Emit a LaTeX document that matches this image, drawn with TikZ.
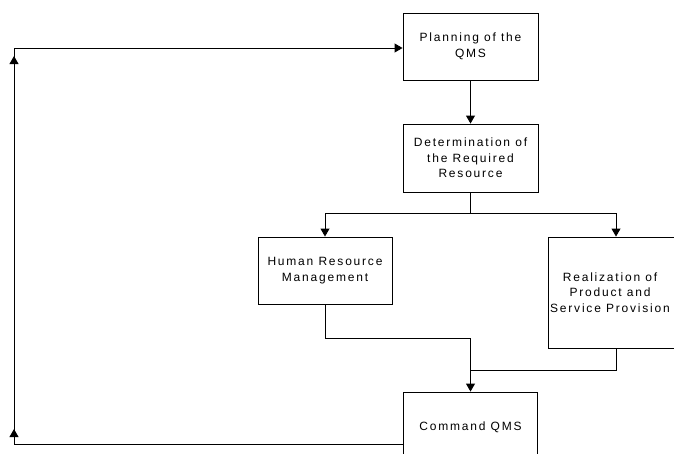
\documentclass[tikz,border=0pt]{standalone}
\usepackage{fontspec}
\setmainfont{Liberation Sans}[LetterSpace=15]
\usetikzlibrary{arrows.meta,decorations.markings}
\tikzset{
  boxtext/.style={align=center, inner sep=0pt, font=\fontsize{12}{15.5}\selectfont},
  box/.style={boxtext, draw=black, line width=0.9pt, fill=white},
  link/.style={line width=0.9pt, draw=black},
  tip/.style={-{Triangle[length=8pt,width=9pt]}},
}
\begin{document}
\begin{tikzpicture}[x=1pt,y=-1pt]
  \useasboundingbox (0,0) rectangle (674,453);
  \clip (0,0) rectangle (674,453);

  % process boxes
  \node[box, minimum width=135pt, minimum height=67pt] (plan) at (470.5,46.5) {Planning of the\\QMS};
  \node[box, minimum width=135pt, minimum height=68pt] (det) at (470.5,158) {Determination of\\the Required\\Resource};
  \node[box, minimum width=134pt, minimum height=67pt] (hum) at (325,270.5) {Human Resource\\Management};
  \node[box, minimum width=136pt, minimum height=111pt] (real) at (616,292.5) {};
  \node[boxtext] (realtext) at ([xshift=-6pt]real.center) {Realization of\\Product and\\Service Provision};
  \node[box, minimum width=134pt, minimum height=70pt] (cmd) at (470.5,427) {Command QMS};

  % junction points
  \coordinate (split) at (470.5,213);
  \coordinate (mergeH) at (325,338);
  \coordinate (mergeR) at (470.5,370);
  \coordinate (fbl) at (14,444);
  \coordinate (ful) at (14,48);

  % forward flow
  \draw[link, tip] (plan.south) -- (det.north);
  \draw[link] (det.south) -- (split);
  \draw[link, tip] (split) -| (hum.north);
  \draw[link, tip] (split) -| (real.north);
  \draw[link, tip] (hum.south) -- (mergeH) -| (cmd.north);
  \draw[link] (real.south) |- (mergeR);

  % feedback loop back to planning
  \draw[link, tip,
    postaction={decorate},
    decoration={markings,
      mark=at position 404pt with {\arrow{Triangle[length=8pt,width=9pt]}},
      mark=at position 777pt with {\arrow{Triangle[length=8pt,width=9pt]}}}]
    (cmd.west |- fbl) -- (fbl) -- (ful) -- (plan.west |- ful);
\end{tikzpicture}
\end{document}
